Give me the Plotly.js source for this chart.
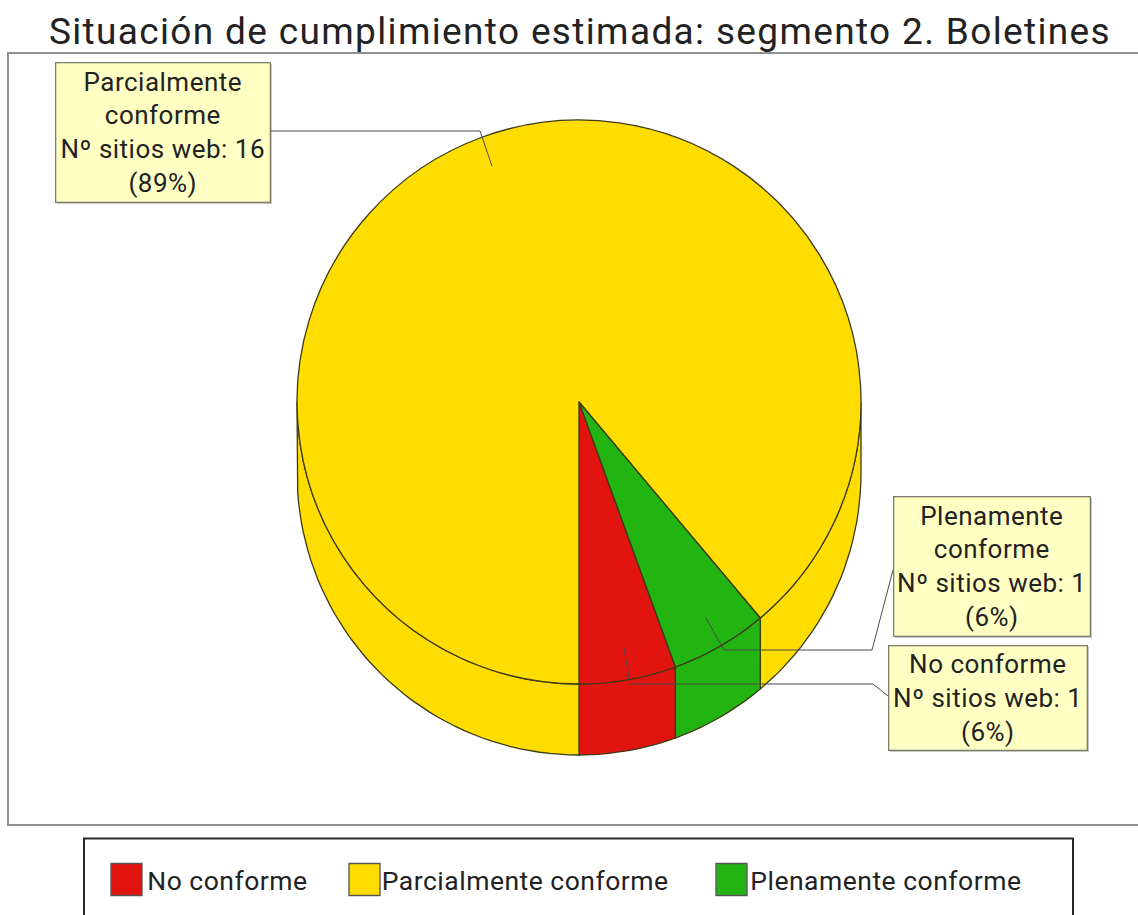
<!DOCTYPE html>
<html>
<head>
<meta charset="utf-8">
<script src="https://cdn.plot.ly/plotly-3.0.1.min.js"></script>
<style>
html,body{margin:0;padding:0;background:#fff;overflow:hidden}
#chart{width:1138px;height:915px}
#chart .gtitle{letter-spacing:1.35px}
#chart .annotation-text{letter-spacing:0.5px}
</style>
</head>
<body>
<div id="chart"></div>
<script>
// --- data ---
const titleText = 'Situación de cumplimiento estimada: segmento 2. Boletines';
const categories = ['No conforme', 'Parcialmente conforme', 'Plenamente conforme'];
const calloutNames = ['No conforme', 'Parcialmente<br>conforme', 'Plenamente<br>conforme'];
const sitios = [1, 16, 1];
const percentLabels = ['6%', '89%', '6%'];
const colors = ['#E2140F', '#FFDD00', '#22B511'];

// --- layout constants ---
const W = 1138, H = 915, FONT = 'Roboto, sans-serif', INK = '#222222', EDGE = '#3d3a14';
const cx = 579, cy = 402, R = 282, DEPTH = 71, ROT = 160;
const boxes = [
  {x0: 888, x1: 1087, y0: 645, y1: 750, leader: [[888,696],[873,684],[630,684],[624,648]]},
  {x0: 55,  x1: 270,  y0: 62,  y1: 202, leader: [[270,131],[480,131],[492,166]]},
  {x0: 893, x1: 1090, y0: 496, y1: 636, leader: [[893,570],[872,650],[724,650],[706,618]]}
];
const legendPos = [{sq: 111, tx: 149}, {sq: 349, tx: 386}, {sq: 716, tx: 754}];

// --- extruded wall of the pie, derived from the values ---
const total = sitios.reduce((a, b) => a + b, 0);
function wallTrace(a, b, color) {
  const xs = [], ys = [];
  const n = Math.max(2, Math.ceil((b - a) / 2));
  const pt = (t, dy) => { const r = t * Math.PI / 180; xs.push(cx + R * Math.sin(r)); ys.push(cy + dy - R * Math.cos(r)); };
  for (let i = 0; i <= n; i++) pt(a + (b - a) * i / n, 0);
  for (let i = n; i >= 0; i--) pt(a + (b - a) * i / n, DEPTH);
  xs.push(xs[0]); ys.push(ys[0]);
  return {type: 'scatter', mode: 'lines', x: xs, y: ys, fill: 'toself', fillcolor: color,
          line: {color: EDGE, width: 1.3}, hoverinfo: 'skip', showlegend: false};
}
const traces = [];
let start = ROT;
sitios.forEach((v, i) => {
  const end = start + v / total * 360;
  [0, 360].forEach(k => {
    const lo = Math.max(start, 90 + k), hi = Math.min(end, 270 + k);
    if (hi > lo) traces.push(wallTrace(lo, hi, colors[i]));
  });
  start = end;
});
traces.push({
  type: 'pie', labels: categories, values: sitios, sort: false, direction: 'clockwise', rotation: ROT,
  marker: {colors: colors, line: {color: EDGE, width: 1.3}}, textinfo: 'none', showlegend: false,
  hoverinfo: 'label+value+percent',
  domain: {x: [(cx - R) / W, (cx + R) / W], y: [1 - (cy + R) / H, 1 - (cy - R) / H]}
});

// --- frame, callouts, legend ---
const rect = (x0, y0, x1, y1, fill, line, lw, layer) => ({type: 'rect', xref: 'x', yref: 'y', x0, y0, x1, y1,
  fillcolor: fill, line: {color: line, width: lw}, layer: layer || 'above'});
const shapes = [rect(8, 53, 1150, 825, 'rgba(0,0,0,0)', '#8f8f8f', 2, 'below'),
                rect(84, 838.5, 1073, 930, 'rgba(0,0,0,0)', '#2a2a2a', 2, 'below')];
const annotations = [];
boxes.forEach((b, i) => {
  shapes.push(rect(b.x0 + 2, b.y0 + 2, b.x1 + 2, b.y1 + 2, '#c8c8c0', 'rgba(0,0,0,0)', 0));
  shapes.push({type: 'path', xref: 'x', yref: 'y', layer: 'above',
    path: b.leader.map((p, j) => (j ? 'L' : 'M') + p[0] + ',' + p[1]).join(' '),
    line: {color: '#4a4a4a', width: 1}});
  annotations.push({xref: 'x', yref: 'y', x: (b.x0 + b.x1) / 2, y: (b.y0 + b.y1) / 2, xanchor: 'center', yanchor: 'middle',
    showarrow: false, align: 'center', valign: 'middle', width: b.x1 - b.x0 - 2, height: b.y1 - b.y0 - 2, borderpad: 0,
    bgcolor: '#FFFFC4', bordercolor: '#7d7d6d', borderwidth: 1.3,
    text: calloutNames[i] + '<br>Nº sitios web: ' + sitios[i] + '<br>(' + percentLabels[i] + ')',
    font: {family: FONT, size: 26, color: INK}});
});
categories.forEach((c, i) => {
  const p = legendPos[i];
  shapes.push(rect(p.sq, 863.5, p.sq + 31, 895.5, colors[i], '#555', 1.3, 'below'));
  annotations.push({xref: 'x', yref: 'y', x: p.tx, y: 880, xanchor: 'left', yanchor: 'middle', showarrow: false,
    text: c, borderpad: 0, font: {family: FONT, size: 26.5, color: INK}});
});

Plotly.newPlot('chart', traces, {
  width: W, height: H, margin: {l: 0, r: 0, t: 0, b: 0}, paper_bgcolor: '#fff', plot_bgcolor: 'rgba(0,0,0,0)',
  title: {text: titleText, x: 580 / W, xanchor: 'center', xref: 'paper', y: 1 - 31 / H, yanchor: 'middle', yref: 'container',
          font: {family: FONT, size: 37, color: INK}},
  xaxis: {range: [0, W], visible: false, fixedrange: true},
  yaxis: {range: [H, 0], visible: false, fixedrange: true},
  showlegend: false, shapes, annotations
}, {displayModeBar: false, staticPlot: true});
</script>
</body>
</html>
